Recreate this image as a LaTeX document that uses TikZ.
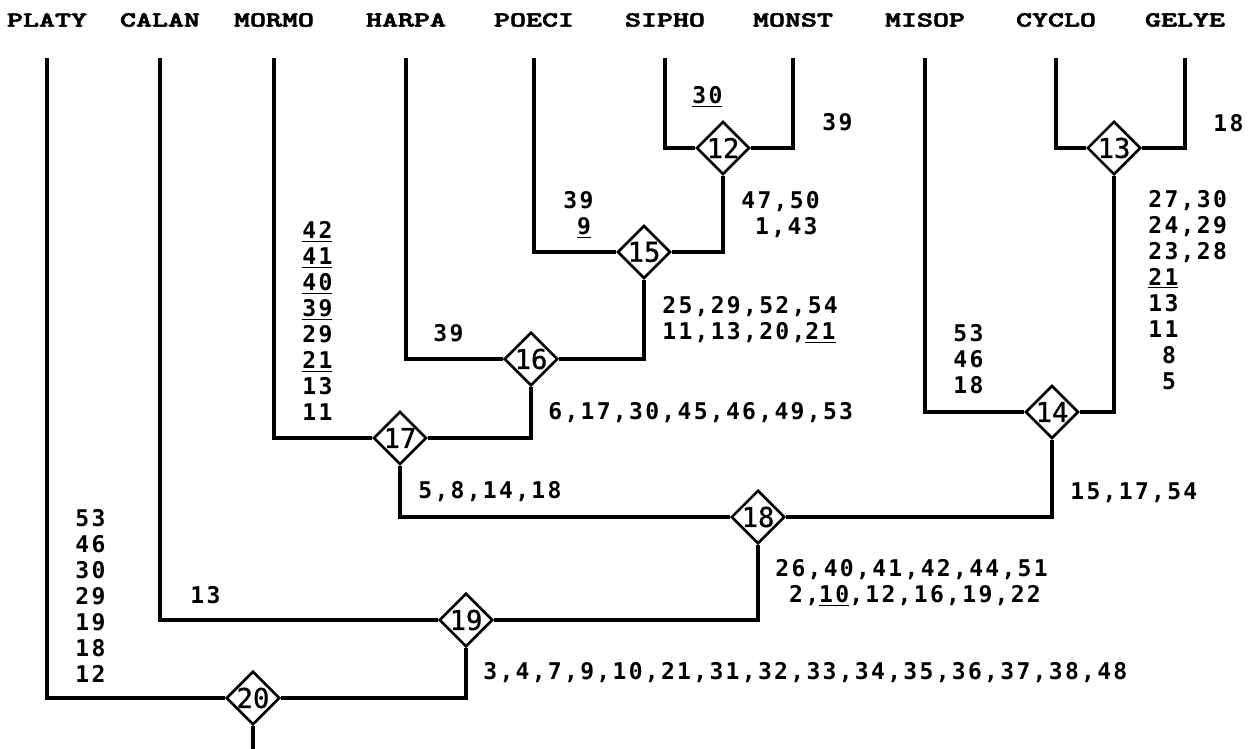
\documentclass[tikz,border=0pt]{standalone}
\usepackage{fontspec}
\usepackage{tikz}
\usetikzlibrary{shapes.geometric}
\newfontfamily\charfam[LetterSpace=10]{DejaVu Sans Mono}
\newfontfamily\knotfam[FakeBold=1]{DejaVu Sans Mono}
\newfontfamily\taxonfam[Extension=.otf,FakeBold=2.5]{lmmonolt10-bold}
\newcommand{\taxafont}{\taxonfam\fontsize{12.2pt}{15pt}\selectfont}
\newcommand{\charsfont}{\charfam\fontsize{13.1pt}{14.8pt}\selectfont\bfseries}
\newcommand{\knotfont}{\knotfam\fontsize{15.5pt}{17pt}\selectfont}
\newcommand{\taxname}[1]{\scalebox{1.42}[1]{#1}}
\tikzset{
  taxon/.style={font=\taxafont,inner sep=0pt},
  chars/.style={font=\charsfont,inner sep=0pt,anchor=west,align=left},
  knot/.style={diamond,draw,line width=1.5pt,inner sep=0pt,minimum width=1.06cm,minimum height=1.06cm,font=\knotfont,fill=white},
  branch/.style={line width=2pt}
}
\begin{document}
\begin{tikzpicture}[x=0.02cm,y=-0.02cm]
  \useasboundingbox (0,0) rectangle (1253,749);
  % taxa and tops of their branches
  \foreach \id/\x/\name in {platy/47/PLATY,calan/160/CALAN,mormo/274/MORMO,harpa/406/HARPA,poeci/534/POECI,sipho/665/SIPHO,monst/793/MONST,misop/925/MISOP,cyclo/1056/CYCLO,gelye/1185/GELYE}{
    \node[taxon] (\id) at (\x,20) {\taxname{\name}};
    \coordinate (\id-top) at (\x,58);
  }
  \coordinate (root) at (253,749);
  % nodes of the tree
  \node[knot] (n12) at (723,148) {12};
  \node[knot] (n13) at (1114,148) {13};
  \node[knot] (n15) at (644,252) {15};
  \node[knot] (n16) at (531,359) {16};
  \node[knot] (n14) at (1052,412) {14};
  \node[knot] (n17) at (400,438) {17};
  \node[knot] (n18) at (758,517) {18};
  \node[knot] (n19) at (466,620) {19};
  \node[knot] (n20) at (253,698) {20};
  % branches
  \draw[branch] (sipho-top) |- (n12.west);
  \draw[branch] (monst-top) |- (n12.east);
  \draw[branch] (cyclo-top) |- (n13.west);
  \draw[branch] (gelye-top) |- (n13.east);
  \draw[branch] (poeci-top) |- (n15.west);
  \draw[branch] (n12.south) |- (n15.east);
  \draw[branch] (harpa-top) |- (n16.west);
  \draw[branch] (n15.south) |- (n16.east);
  \draw[branch] (mormo-top) |- (n17.west);
  \draw[branch] (n16.south) |- (n17.east);
  \draw[branch] (misop-top) |- (n14.west);
  \draw[branch] (n13.south) |- (n14.east);
  \draw[branch] (n17.south) |- (n18.west);
  \draw[branch] (n14.south) |- (n18.east);
  \draw[branch] (calan-top) |- (n19.west);
  \draw[branch] (n18.south) |- (n19.east);
  \draw[branch] (platy-top) |- (n20.west);
  \draw[branch] (n19.south) |- (n20.east);
  \draw[branch] (n20.south) -- (root);
  % character lists
  \node[chars] (c12l) at (692,97) {\underline{30}};
  \node[chars] (c12r) at (822,122) {39};
  \node[chars] (c13r) at (1213,123) {18};
  \node[chars] (c15l) at (563,215) {39\\\hphantom{0}\underline{9}};
  \node[chars] (c15r) at (741,215) {47,50\\\hphantom{0}1,43};
  \node[chars] (c14r) at (1148,290) {27,30\\24,29\\23,28\\\underline{21}\\13\\11\\\hphantom{0}8\\\hphantom{0}5};
  \node[chars] (c17l) at (302,321) {\underline{42}\\\underline{41}\\\underline{40}\\\underline{39}\\29\\\underline{21}\\13\\11};
  \node[chars] (c16l) at (433,333) {39};
  \node[chars] (c16r) at (662,320) {25,29,52,54\\11,13,20,\underline{21}};
  \node[chars] (c14l) at (953,359) {53\\46\\18};
  \node[chars] (c17r) at (548,413) {6,17,30,45,46,49,53};
  \node[chars] (c18l) at (418,492) {5,8,14,18};
  \node[chars] (c18r) at (1070,493) {15,17,54};
  \node[chars] (c19r) at (775,583) {26,40,41,42,44,51\\\hphantom{0}2,\underline{10},12,16,19,22};
  \node[chars] (c19l) at (190,595) {13};
  \node[chars] (c20l) at (75,596) {53\\46\\30\\29\\19\\18\\12};
  \node[chars] (c20r) at (483,673) {3,4,7,9,10,21,31,32,33,34,35,36,37,38,48};
\end{tikzpicture}
\end{document}
